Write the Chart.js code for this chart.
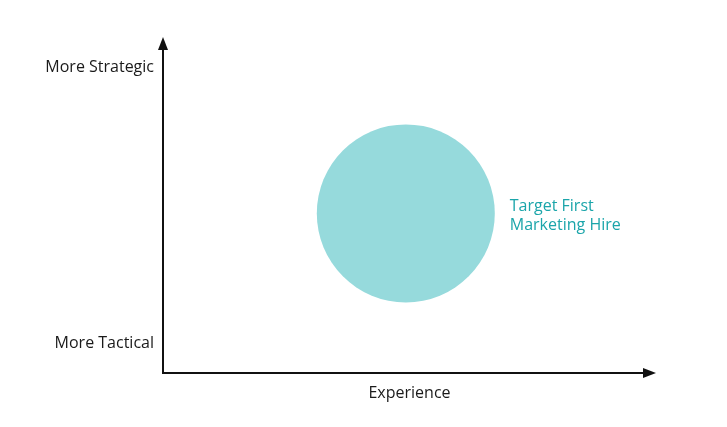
<!DOCTYPE html>
<html>
<head>
<meta charset="utf-8">
<script src="https://cdn.jsdelivr.net/npm/chart.js@4/dist/chart.umd.min.js"></script>
<style>
  html, body { margin: 0; padding: 0; background: #fff; }
  #wrap { width: 727px; height: 427px; position: relative; }
</style>
</head>
<body>
<div id="wrap"><canvas id="chart"></canvas></div>
<script>
const bubbleLabel = ['Target First', 'Marketing Hire'];
const bubbleX = [49.25];
const bubbleY = [47.5];
const bubbleR = [89];
const yTickValues = [8.8, 91];
const yTickLabels = ['More Tactical', 'More Strategic'];
const xTitle = 'Experience';

const FONT = "'Open Sans', sans-serif";
const TEAL = '#1ba5aa';

// arrows on both axes + label next to the bubble
const decorations = {
  id: 'decorations',
  afterDatasetsDraw(chart) {
    const { ctx, chartArea: a } = chart;
    ctx.save();
    ctx.strokeStyle = '#111';
    ctx.fillStyle = '#111';
    ctx.lineWidth = 2;
    ctx.beginPath();
    ctx.moveTo(a.left, a.top + 10);
    ctx.lineTo(a.left, a.bottom);
    ctx.lineTo(a.right - 10, a.bottom);
    ctx.stroke();
    // up arrow
    ctx.beginPath();
    ctx.moveTo(a.left, a.top);
    ctx.lineTo(a.left - 5, a.top + 13);
    ctx.lineTo(a.left + 5, a.top + 13);
    ctx.closePath();
    ctx.fill();
    // right arrow
    ctx.beginPath();
    ctx.moveTo(a.right, a.bottom);
    ctx.lineTo(a.right - 13, a.bottom - 5);
    ctx.lineTo(a.right - 13, a.bottom + 5);
    ctx.closePath();
    ctx.fill();

    const pt = chart.getDatasetMeta(0).data[0];
    const r = pt.options.radius;
    ctx.fillStyle = TEAL;
    ctx.font = '16px ' + FONT;
    ctx.textAlign = 'left';
    ctx.textBaseline = 'alphabetic';
    ctx.fillText(bubbleLabel[0], pt.x + r + 15, pt.y - 2);
    ctx.fillText(bubbleLabel[1], pt.x + r + 15, pt.y + 17);
    ctx.restore();
  }
};

new Chart(document.getElementById('chart'), {
  type: 'bubble',
  data: {
    datasets: [{
      label: bubbleLabel.join(' '),
      data: bubbleX.map((x, i) => ({ x: x, y: bubbleY[i], r: bubbleR[i] })),
      backgroundColor: '#96dadc',
      borderWidth: 0,
      hoverRadius: 0
    }]
  },
  options: {
    responsive: true,
    maintainAspectRatio: false,
    animation: false,
    events: [],
    layout: { autoPadding: false, padding: { top: 37, right: 71, left: 0, bottom: 0 } },
    plugins: { legend: { display: false }, tooltip: { enabled: false } },
    scales: {
      x: {
        min: 0, max: 100,
        grid: { display: false },
        border: { display: false },
        ticks: { display: false },
        title: {
          display: true, text: xTitle, color: '#1a1a1a',
          font: { family: FONT, size: 16 },
          padding: { top: 0, bottom: 24 }
        },
        afterFit(s) { s.height = 54; }
      },
      y: {
        min: 0, max: 100,
        grid: { display: false },
        border: { display: false },
        afterBuildTicks(s) { s.ticks = yTickValues.map(v => ({ value: v })); },
        ticks: {
          color: '#1a1a1a',
          padding: 1,
          font: { family: FONT, size: 16 },
          callback: (v) => yTickLabels[yTickValues.indexOf(v)]
        },
        afterFit(s) { s.width = 163; }
      }
    }
  },
  plugins: [decorations]
});
</script>
</body>
</html>
